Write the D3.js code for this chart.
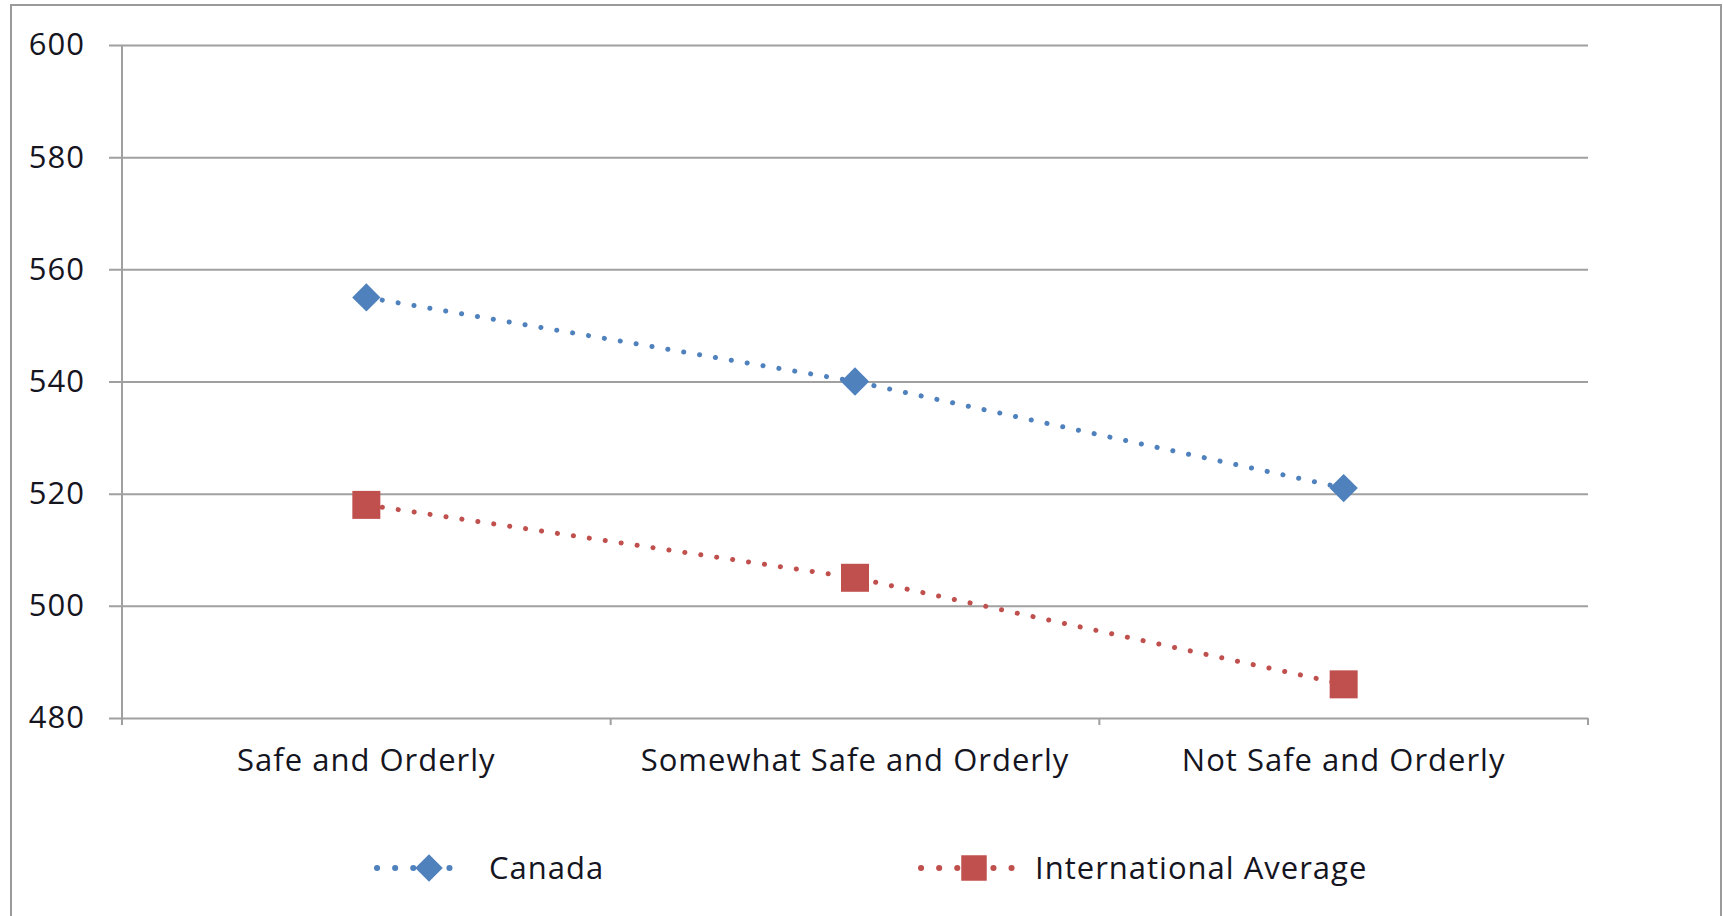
<!DOCTYPE html>
<html>
<head>
<meta charset="utf-8">
<script src="https://cdn.jsdelivr.net/npm/d3@7"></script>
<style>
  body { margin: 0; background: #fff; }
  text { font-family: "Open Sans", Lato, sans-serif; fill: #15151f; letter-spacing: 1px; }
</style>
</head>
<body>
<div id="chart"></div>
<script>
// categories and series
var categories = ["Safe and Orderly", "Somewhat Safe and Orderly", "Not Safe and Orderly"];
var canada = [555, 540, 521];
var intlAverage = [518, 505, 486];
var yTicks = [480, 500, 520, 540, 560, 580, 600];
var seriesNames = ["Canada", "International Average"];

var width = 1723, height = 916;
var fontSize = 31;

var svg = d3.select("#chart").append("svg")
    .attr("width", width)
    .attr("height", height);

// outer chart-area frame
svg.append("rect")
    .attr("x", 11).attr("y", 5)
    .attr("width", 1710).attr("height", 930)
    .attr("fill", "none")
    .attr("stroke", "#9a9a9a")
    .attr("stroke-width", 2);

var plot = {left: 122, right: 1588, top: 45, bottom: 718};

var x = d3.scaleBand()
    .domain(categories)
    .range([plot.left, plot.right]);

var y = d3.scaleLinear()
    .domain([480, 600])
    .range([plot.bottom, plot.top]);

// horizontal gridlines + y axis labels
var yAxis = d3.axisLeft(y)
    .tickValues(yTicks)
    .tickSize(-(plot.right - plot.left))
    .tickSizeOuter(0)
    .tickPadding(37);

var gy = svg.append("g")
    .attr("transform", "translate(" + plot.left + ",0)")
    .call(yAxis);
gy.select(".domain").remove();
gy.selectAll(".tick line")
    .attr("x1", -13)
    .attr("stroke", "#a0a0a0")
    .attr("stroke-width", 2);
gy.selectAll(".tick text")
    .style("font-size", fontSize + "px")
    .style("font-family", "'Open Sans', sans-serif")
    .attr("fill", "#15151f");

// vertical axis line
svg.append("line")
    .attr("x1", plot.left).attr("x2", plot.left)
    .attr("y1", plot.top).attr("y2", plot.bottom + 7)
    .attr("stroke", "#a0a0a0").attr("stroke-width", 2);

// category axis ticks between and after the bands
var tickXs = categories.map(c => x(c) + x.bandwidth());
svg.selectAll(".cat-tick")
    .data(tickXs)
    .enter()
    .append("line")
    .attr("class", "cat-tick")
    .attr("x1", d => d).attr("x2", d => d)
    .attr("y1", plot.bottom).attr("y2", plot.bottom + 7)
    .attr("stroke", "#a0a0a0").attr("stroke-width", 2);

svg.selectAll(".cat-label")
    .data(categories)
    .enter()
    .append("text")
    .attr("class", "cat-label")
    .attr("x", d => x(d) + x.bandwidth() / 2)
    .attr("y", 771)
    .attr("text-anchor", "middle")
    .style("font-size", fontSize + "px")
    .text(d => d);

var line = d3.line()
    .x((d, i) => x(categories[i]) + x.bandwidth() / 2)
    .y(d => y(d));

var series = [
    {name: seriesNames[0], values: canada, color: "#4f81bd", diamond: true},
    {name: seriesNames[1], values: intlAverage, color: "#c0504d", diamond: false}
];

// marker: square, rotated 45deg for the diamond
function marker(sel, s, size) {
    sel.attr("d", d3.symbol().type(d3.symbolSquare).size(size))
        .attr("fill", s.color);
}

series.forEach(s => {
    svg.append("path")
        .datum(s.values)
        .attr("d", line)
        .attr("fill", "none")
        .attr("stroke", s.color)
        .attr("stroke-width", 5)
        .attr("stroke-linecap", "round")
        .attr("stroke-dasharray", "0.1 16");

    svg.selectAll(null)
        .data(s.values)
        .enter()
        .append("path")
        .attr("transform", (d, i) => "translate(" + (x(categories[i]) + x.bandwidth() / 2) + "," + y(d) + ")" + (s.diamond ? " rotate(45)" : ""))
        .call(marker, s, s.diamond ? 400 : 784);
});

// legend
var legendY = 868;
var legendItems = [
    {x0: 377, x1: 467, mx: 429, tx: 489},
    {x0: 921, x1: 1012, mx: 974, tx: 1035}
];
series.forEach((s, i) => {
    var it = legendItems[i];
    var g = svg.append("g");
    g.append("line")
        .attr("x1", it.x0).attr("x2", it.x1)
        .attr("y1", legendY).attr("y2", legendY)
        .attr("stroke", s.color)
        .attr("stroke-width", 6)
        .attr("stroke-linecap", "round")
        .attr("stroke-dasharray", "0.1 18");
    g.append("path")
        .attr("transform", "translate(" + it.mx + "," + legendY + ")" + (s.diamond ? " rotate(45)" : ""))
        .call(marker, s, s.diamond ? 380 : 650);
    g.append("text")
        .attr("x", it.tx)
        .attr("y", legendY)
        .attr("dy", "0.35em")
        .style("font-size", fontSize + "px")
        .text(s.name);
});
</script>
</body>
</html>
